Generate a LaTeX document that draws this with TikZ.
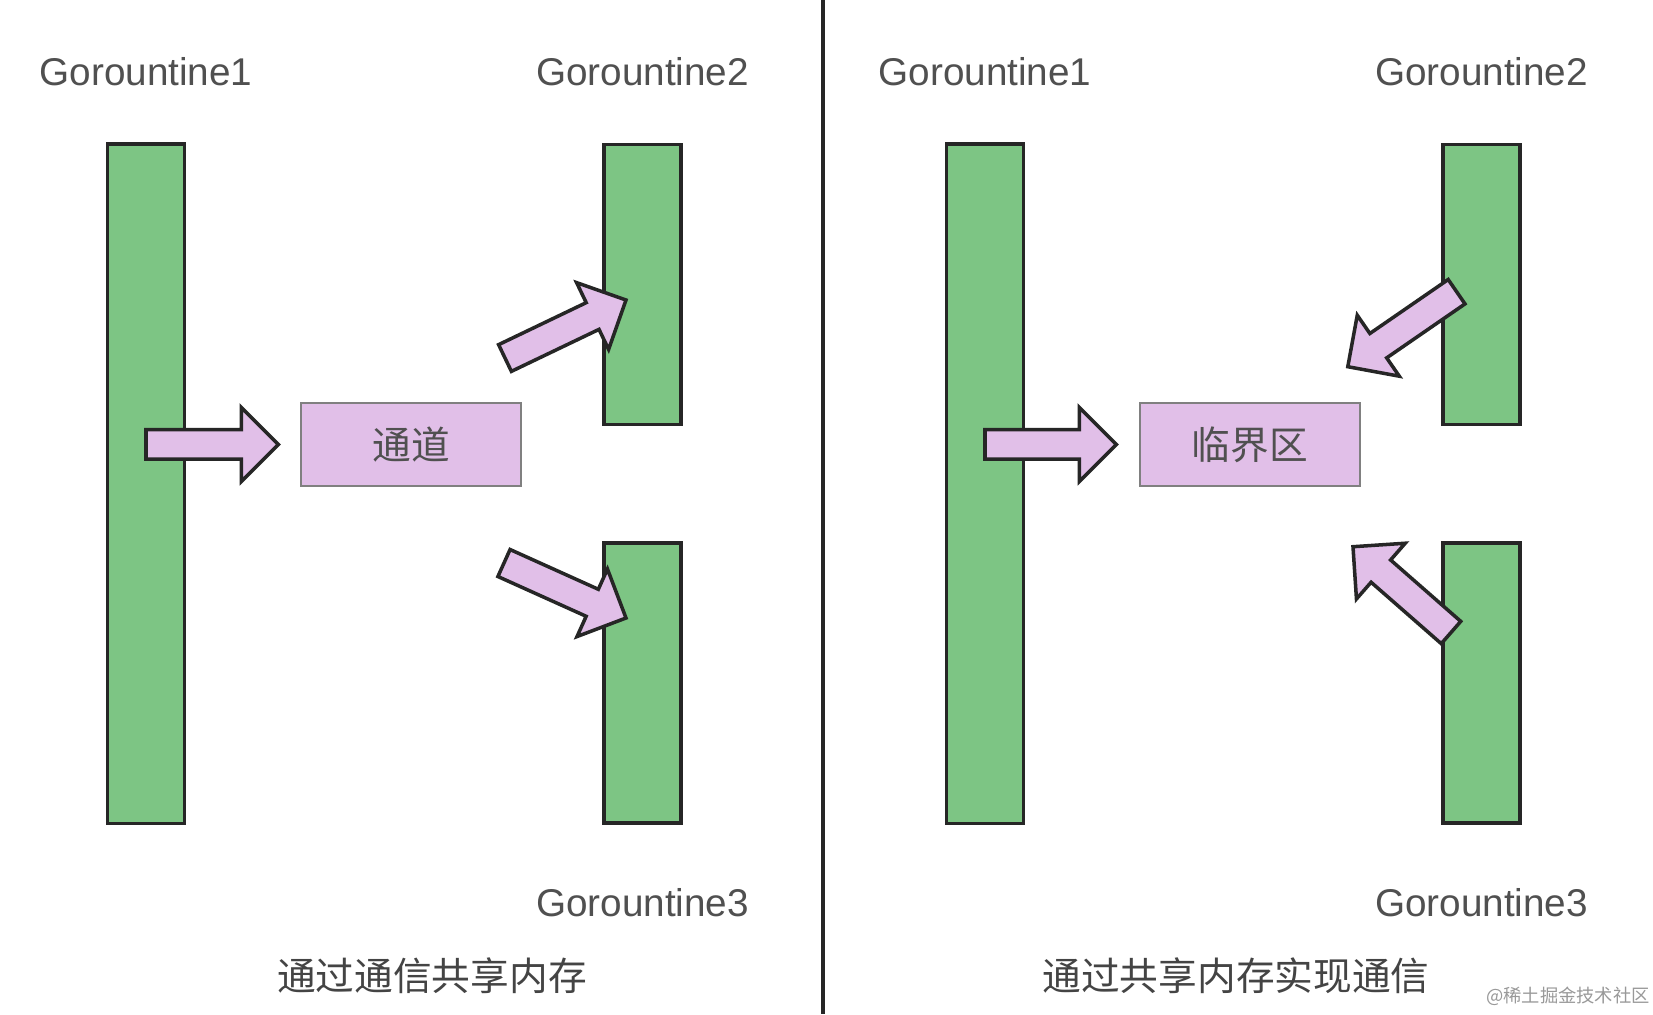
\documentclass[tikz,border=0pt]{standalone}
\usepackage{fontspec}
\setmainfont{Liberation Sans}
\newfontfamily\cjk{Noto Sans CJK SC}
\usetikzlibrary{calc,positioning}

\definecolor{barGreen}{RGB}{125,197,132}
\definecolor{boxPurple}{RGB}{225,191,232}
\definecolor{labelGray}{RGB}{80,80,80}
\definecolor{edgeDark}{RGB}{38,38,38}

% fat arrow from #1 to #2
\newcommand{\fatarrow}[2]{%
    \path ($(#2)!0.37cm!(#1)$) coordinate (neck);
    \draw[fatarrow] ($(#1)!0.148cm!90:(#2)$) -- ($(neck)!0.148cm!90:(#2)$)
        -- ($(neck)!0.37cm!90:(#2)$) -- (#2) -- ($(neck)!0.37cm!-90:(#2)$)
        -- ($(neck)!0.148cm!-90:(#2)$) -- ($(#1)!0.148cm!-90:(#2)$) -- cycle;
}

\begin{document}
\begin{tikzpicture}[x=0.01cm, y=-0.01cm,
    bar/.style={draw=edgeDark, fill=barGreen, line width=1pt, minimum width=0.77cm, inner sep=0pt},
    area/.style={draw=gray, fill=boxPurple, line width=0.6pt, minimum width=2.19cm, minimum height=0.83cm,
        font=\cjk\fontsize{11}{13}\selectfont, text=labelGray},
    gname/.style={font=\fontsize{11}{13}\selectfont, text=labelGray},
    caption/.style={font=\cjk\fontsize{11}{13}\selectfont, text=labelGray!85!black},
    fatarrow/.style={draw=edgeDark, fill=boxPurple, line width=1pt}]
    \fill[white] (0,0) rectangle (1653,1014);
    \useasboundingbox (0,0) rectangle (1653,1014);

    % Divider
    \draw[edgeDark, line width=1pt] (823,0) -- (823,1014);

    % Goroutines and shared box, one panel each
    \foreach \p/\dx/\word in {L/0/通道, R/839/临界区} {
        \node[bar, minimum height=6.79cm] (g1-\p) at (146+\dx,483.7) {};
        \node[bar, minimum height=2.80cm] (g2-\p) at (642.5+\dx,284.6) {};
        \node[bar, minimum height=2.80cm] (g3-\p) at (642.5+\dx,683) {};
        \node[area] (box-\p) at (411+\dx,444.4) {\word};
        \node[gname] (n1-\p) at (146+\dx,72) {Gorountine1};
        \node[gname] (n2-\p) at (642.5+\dx,72) {Gorountine2};
        \node[gname] (n3-\p) at (642.5+\dx,902.5) {Gorountine3};
    }

    % Captions
    \node[caption] (cap-L) at (432,976) {通过通信共享内存};
    \node[caption] (cap-R) at (1236,976) {通过共享内存实现通信};
    \node[font=\cjk\fontsize{5.2}{6}\selectfont, text=gray!80, inner sep=0pt] (mark) at (1568,996) {@稀土掘金技术社区};

    % Arrows, left: channel
    \coordinate (a1s) at (g1-L |- box-L);
    \coordinate (a1e) at ([xshift=-0.22cm]box-L.west);
    \coordinate (a2s) at (505,358);
    \coordinate (a2e) at (626,300);
    \coordinate (a3s) at (504,563);
    \coordinate (a3e) at (626,618);
    \fatarrow{a1s}{a1e}
    \fatarrow{a2s}{a2e}
    \fatarrow{a3s}{a3e}

    % Arrows, right: critical section
    \coordinate (b1s) at (g1-R |- box-R);
    \coordinate (b1e) at ([xshift=-0.23cm]box-R.west);
    \coordinate (b2s) at (1456.6,291.7);
    \coordinate (b2e) at (1347.8,366.7);
    \coordinate (b3s) at (1451,632.5);
    \coordinate (b3e) at (1353,546.7);
    \fatarrow{b1s}{b1e}
    \fatarrow{b2s}{b2e}
    \fatarrow{b3s}{b3e}
\end{tikzpicture}
\end{document}
